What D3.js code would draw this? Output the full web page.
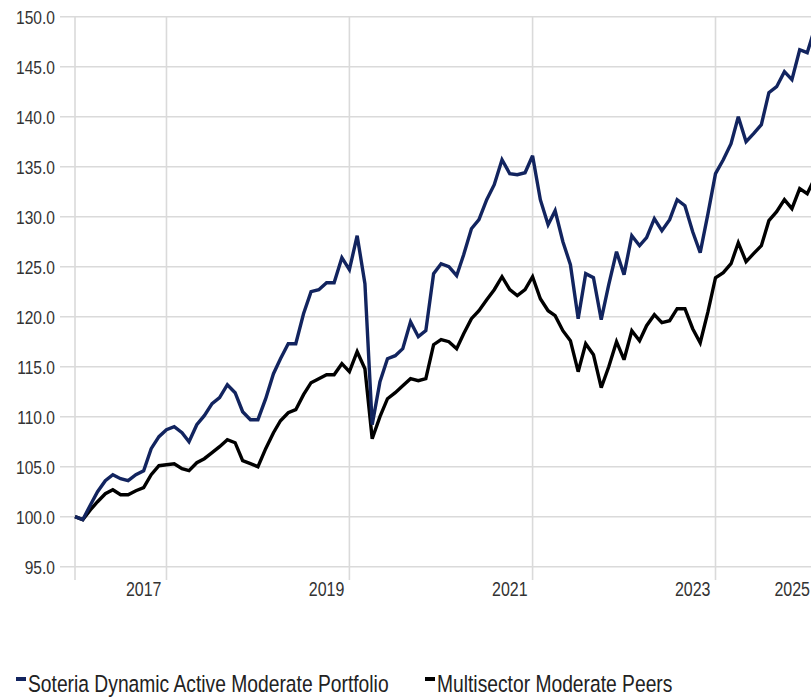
<!DOCTYPE html>
<html>
<head>
  <meta charset="utf-8">
  <title>Growth of 100</title>
  <style>
    body { margin: 0; background: #fff; }
    svg { display: block; font-family: "Liberation Sans", Arial, sans-serif; }
  </style>
</head>
<body>

<svg width="811" height="698" viewBox="0 0 811 698"></svg>

<script src="https://cdn.jsdelivr.net/npm/d3@7/dist/d3.min.js"></script>
<script>
// month-end values, Dec 2016 .. Jan 2025
const startMonth = new Date(2016, 11, 1);

const portfolio = [
  100.0, 99.7, 101.2, 102.5, 103.6, 104.2, 103.8, 103.6, 104.2, 104.6, 106.8, 108.0,
  108.7, 109.0, 108.4, 107.5, 109.2, 110.1, 111.3, 111.9, 113.2, 112.4, 110.5, 109.7,
  109.7, 111.8, 114.3, 115.8, 117.3, 117.3, 120.3, 122.5, 122.7, 123.4, 123.4, 125.9,
  124.7, 128.1, 123.3, 109.2, 113.5, 115.8, 116.1, 116.8, 119.5, 118.0, 118.6, 124.3,
  125.3, 125.0, 124.1, 126.2, 128.8, 129.7, 131.7, 133.2, 135.7, 134.3, 134.2, 134.4,
  136.1, 131.7, 129.2, 130.6, 127.5, 125.2, 119.8, 124.3, 123.9, 119.7, 123.2, 126.5,
  124.2, 128.1, 127.1, 127.9, 129.8, 128.6, 129.7, 131.7, 131.1, 128.5, 126.4, 130.3,
  134.3, 135.7, 137.3, 140.0, 137.5, 138.3, 139.2, 142.4, 143.0, 144.5, 143.7, 146.7,
  146.4, 148.9
];

const peers = [
  100.0, 99.7, 100.7, 101.5, 102.3, 102.7, 102.2, 102.2, 102.6, 102.9, 104.2, 105.1,
  105.2, 105.3, 104.8, 104.6, 105.4, 105.8, 106.4, 107.0, 107.7, 107.4, 105.6, 105.3,
  105.0, 106.8, 108.4, 109.6, 110.4, 110.7, 112.2, 113.4, 113.8, 114.2, 114.2, 115.3,
  114.5, 116.5, 114.8, 107.8, 110.0, 111.8, 112.4, 113.1, 113.8, 113.6, 113.8, 117.2,
  117.7, 117.5, 116.8, 118.3, 119.8, 120.6, 121.7, 122.7, 124.0, 122.7, 122.1, 122.7,
  124.0, 121.8, 120.6, 120.1, 118.6, 117.6, 114.5, 117.3, 116.2, 112.9, 115.0, 117.5,
  115.7, 118.6, 117.6, 119.1, 120.2, 119.4, 119.6, 120.8, 120.8, 118.8, 117.4, 120.5,
  123.9, 124.4, 125.3, 127.4, 125.5, 126.3, 127.1, 129.6, 130.5, 131.7, 130.8, 132.8,
  132.3, 133.9
];

const yearLabels = [2017, 2019, 2021, 2023, 2025];
const yTicks = [95, 100, 105, 110, 115, 120, 125, 130, 135, 140, 145, 150];

const series = [
  { name: 'Multisector Moderate Peers', values: peers, color: '#000000' },
  { name: 'Soteria Dynamic Active Moderate Portfolio', values: portfolio, color: '#12245f' },
];
const legendItems = [series[1], series[0]];

const months = portfolio.map((d, i) => d3.timeMonth.offset(startMonth, i));

const svg = d3.select('svg');
const width = 811;
const gridColor = '#dadada';
const narrow = 0.82; // condensed look: squeeze the sans horizontally

const x = d3.scaleTime()
  .domain([new Date(2016, 11, 1), new Date(2023, 11, 1)])
  .range([75, 715.5]);

const y = d3.scaleLinear()
  .domain([95, 150])
  .range([566.7, 16.7]);

// horizontal grid + y labels
const gy = svg.append('g');
gy.selectAll('line').data(yTicks).join('line')
  .attr('x1', 60)
  .attr('x2', width)
  .attr('y1', d => y(d))
  .attr('y2', d => y(d))
  .attr('stroke', gridColor)
  .attr('stroke-width', 1.6);
gy.selectAll('g').data(yTicks).join('g')
  .attr('transform', d => `translate(55,${y(d)}) scale(${narrow},1)`)
  .append('text')
    .attr('dy', '0.36em')
    .attr('text-anchor', 'end')
    .attr('font-size', '19px')
    .attr('fill', '#333')
    .text(d => d.toFixed(1));

// vertical grid at start and year ends
const vLines = [startMonth].concat(
  yearLabels.map(yr => new Date(yr, 11, 1)).filter(d => x(d) < width)
);
svg.append('g').selectAll('line').data(vLines).join('line')
  .attr('x1', d => x(d))
  .attr('x2', d => x(d))
  .attr('y1', y(150))
  .attr('y2', 580)
  .attr('stroke', gridColor)
  .attr('stroke-width', 1.6);

// x labels, right aligned to the year end
svg.append('g').selectAll('g').data(yearLabels).join('g')
  .attr('transform', d => {
    const px = Math.min(x(new Date(d, 11, 1)) - 5, width - 1);
    return `translate(${px},596) scale(${narrow},1)`;
  })
  .append('text')
    .attr('text-anchor', 'end')
    .attr('font-size', '19.5px')
    .attr('fill', '#333')
    .text(d => d);

// lines
const line = d3.line()
  .x((d, i) => x(months[i]))
  .y(d => y(d));

svg.append('g').selectAll('path').data(series).join('path')
  .attr('d', d => line(d.values))
  .attr('fill', 'none')
  .attr('stroke', d => d.color)
  .attr('stroke-width', 3.4)
  .attr('stroke-linejoin', 'miter')
  .attr('stroke-miterlimit', 3);

// legend
const legendX = [16, 425];
const lg = svg.append('g').selectAll('g').data(legendItems).join('g')
  .attr('transform', (d, i) => `translate(${legendX[i]},0)`);
lg.append('rect')
  .attr('x', 0)
  .attr('y', 677)
  .attr('width', 10)
  .attr('height', 4)
  .attr('fill', d => d.color);
lg.append('g')
  .attr('transform', `translate(12,691.5) scale(${narrow},1)`)
  .append('text')
    .attr('font-size', '23.5px')
    .attr('fill', '#222')
    .text(d => d.name);
</script>

</body>
</html>
